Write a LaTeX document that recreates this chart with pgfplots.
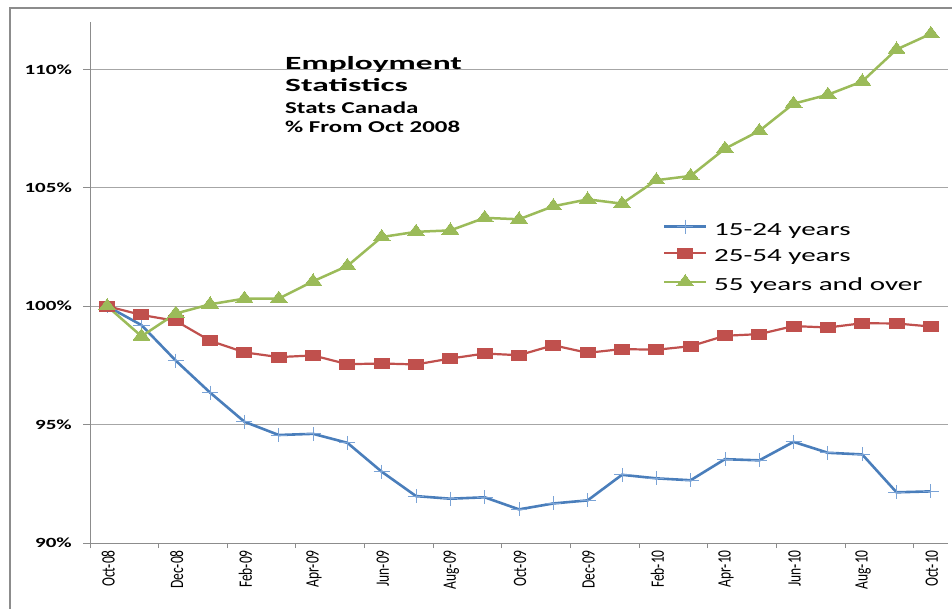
\documentclass[border=0pt]{standalone}
\usepackage{pgfplots}
\pgfplotsset{compat=1.18}
\usepackage{fontspec}
\newfontfamily\cf{Carlito}
\newfontfamily\cfA[FakeStretch=1.8]{Carlito}
\newfontfamily\cfB[FakeStretch=1.5]{Carlito}
\newfontfamily\cfL[FakeStretch=1.57]{Carlito}
\definecolor{sblue}{HTML}{4A7EBB}
\definecolor{sbluemark}{HTML}{7AA3D6}
\definecolor{sred}{HTML}{C0504D}
\definecolor{sgreen}{HTML}{9BBB59}
\definecolor{axgray}{HTML}{8C8C8C}
\definecolor{gridgray}{HTML}{A6A6A6}
\newcommand\xl[1]{\scalebox{1}[1.4]{#1}}
\pgfplotstableread{
x y
0 100
1 99.2
2 97.7
3 96.35
4 95.12
5 94.56
6 94.61
7 94.23
8 93.01
9 91.98
10 91.87
11 91.93
12 91.42
13 91.67
14 91.80
15 92.88
16 92.73
17 92.65
18 93.54
19 93.49
20 94.27
21 93.81
22 93.74
23 92.14
24 92.18
}\young
\pgfplotstableread{
x y
0 100
1 99.63
2 99.38
3 98.54
4 98.05
5 97.85
6 97.92
7 97.55
8 97.58
9 97.54
10 97.79
11 98.00
12 97.93
13 98.35
14 98.03
15 98.19
16 98.16
17 98.31
18 98.75
19 98.82
20 99.16
21 99.10
22 99.28
23 99.27
24 99.14
}\core
\pgfplotstableread{
x y
0 100
1 98.73
2 99.69
3 100.08
4 100.32
5 100.32
6 101.05
7 101.70
8 102.92
9 103.14
10 103.20
11 103.73
12 103.67
13 104.22
14 104.51
15 104.33
16 105.32
17 105.50
18 106.65
19 107.40
20 108.55
21 108.93
22 109.49
23 110.84
24 111.50
}\older
\begin{document}
\begin{tikzpicture}
\path[use as bounding box] (0,0) rectangle (952pt,-609pt);
\draw[axgray, line width=2pt] (10pt,-612pt) -- (10pt,-8pt) -- (955pt,-8pt);
\begin{axis}[
  at={(90pt,-543pt)}, anchor=south west,
  width=858pt, height=521pt, scale only axis,
  xmin=-0.5, xmax=24.5, ymin=90, ymax=112,
  axis x line*=bottom, axis y line*=left,
  axis line style={draw=axgray, line width=1pt},
  ytick={90,95,100,105,110},
  yticklabels={90\%,95\%,100\%,105\%,110\%},
  ymajorgrids, grid style={draw=gridgray, line width=1pt},
  tick align=outside,
  major tick length=7pt,
  ytick style={draw=axgray, line width=1pt},
  yticklabel style={font=\cfB\bfseries\fontsize{14}{14}\selectfont, inner sep=0pt, xshift=-11pt},
  xtick={0,2,...,24},
  xticklabels={\xl{Oct-08},\xl{Dec-08},\xl{Feb-09},\xl{Apr-09},\xl{Jun-09},\xl{Aug-09},\xl{Oct-09},\xl{Dec-09},\xl{Feb-10},\xl{Apr-10},\xl{Jun-10},\xl{Aug-10},\xl{Oct-10}},
  major x tick style={draw=none},
  minor xtick={-0.5,1.5,...,23.5},
  minor tick length=5pt,
  minor x tick style={draw=axgray, line width=1pt},
  xticklabel style={rotate=90, anchor=east, inner sep=0pt, yshift=-1pt, font=\cf\fontsize{13.5}{13.5}\selectfont},
  legend style={at={(0.664,0.625)}, anchor=north west, draw=none, fill=none,
    font=\cfL\fontsize{18.5}{18.5}\selectfont, row sep=7pt,
    nodes={inner sep=0pt, text height=13pt, text depth=6pt}},
  legend cell align=left,
  legend image code/.code={\draw[mark repeat=2,mark phase=2,yshift=5pt] plot coordinates {(0pt,0pt) (21pt,0pt) (42pt,0pt)};},
  clip=false,
]
\addplot[sblue, line width=2.6pt, mark=+, mark size=7pt,
  mark options={draw=sbluemark, line width=0.8pt, xscale=1.15}] table {\young};
\addlegendentry{\ 15-24 years}
\addplot[sred, line width=2.2pt, mark=square*, mark size=5pt,
  mark options={fill=sred, draw=sred, line width=0pt, xscale=1.5}] table {\core};
\addlegendentry{\ 25-54 years}
\addplot[sgreen, line width=2.5pt, mark=triangle*, mark size=7.5pt,
  mark options={fill=sgreen, draw=sgreen, line width=0pt, xscale=1.3}] table {\older};
\addlegendentry{\ 55 years and over}
\end{axis}
\node[anchor=base west, inner sep=0pt, font=\cfA\bfseries\fontsize{18.6}{18.6}\selectfont] at (285pt,-69.3pt) {Employment};
\node[anchor=base west, inner sep=0pt, font=\cfA\bfseries\fontsize{18.6}{18.6}\selectfont] at (285pt,-91.7pt) {Statistics};
\node[anchor=base west, inner sep=0pt, font=\cfB\bfseries\fontsize{16.6}{16.6}\selectfont] at (285pt,-114pt) {Stats Canada};
\node[anchor=base west, inner sep=0pt, font=\cfB\bfseries\fontsize{16.6}{16.6}\selectfont] at (285pt,-132.3pt) {\% From Oct 2008};
\end{tikzpicture}
\end{document}
